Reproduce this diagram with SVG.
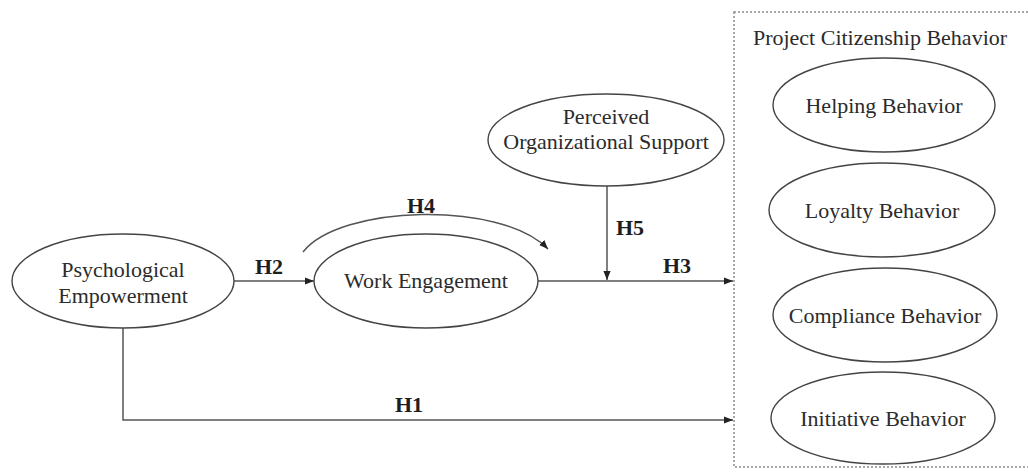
<svg xmlns="http://www.w3.org/2000/svg" width="1028" height="475" viewBox="0 0 1028 475">
  <style>
    .node ellipse { fill: #ffffff; stroke: #444444; stroke-width: 1.4; }
    .lbl { font-family: "Liberation Serif", "Times New Roman", serif; font-size: 22px; fill: #2b2b2b; text-anchor: middle; }
    .hyp { font-family: "Liberation Serif", "Times New Roman", serif; font-size: 22px; font-weight: bold; fill: #1e1e1e; text-anchor: middle; }
    .edge { fill: none; stroke: #555555; stroke-width: 1.5; }
    .frame { fill: none; stroke: #8a8a8a; stroke-width: 1.5; stroke-dasharray: 2 2; }
  </style>
  <defs>
    <marker id="arrow" viewBox="0 0 10 10" refX="10" refY="5" markerWidth="9" markerHeight="9" markerUnits="userSpaceOnUse" orient="auto">
      <path d="M0,1 L10,5 L0,9 Z" fill="#222222"/>
    </marker>
  </defs>
  <rect width="1028" height="475" fill="#ffffff"/>

  <!-- Outcome construct frame -->
  <g id="project-citizenship-behavior">
    <rect class="frame" x="734" y="12" width="400" height="455"/>
    <text class="lbl" x="880" y="45">Project Citizenship Behavior</text>
  </g>

  <!-- Connectors -->
  <g id="connectors">
    <line class="edge" x1="234" y1="281" x2="314" y2="281" marker-end="url(#arrow)"/>
    <path class="edge" d="M303,252 C340,205 500,200 548,249" marker-end="url(#arrow)"/>
    <line class="edge" x1="607" y1="186" x2="607" y2="280" marker-end="url(#arrow)"/>
    <line class="edge" x1="538" y1="281" x2="733" y2="281" marker-end="url(#arrow)"/>
    <path class="edge" d="M123,328 V420 H733" marker-end="url(#arrow)"/>
    <text class="hyp" x="269" y="274">H2</text>
    <text class="hyp" x="421" y="213">H4</text>
    <text class="hyp" x="630" y="235">H5</text>
    <text class="hyp" x="677" y="273">H3</text>
    <text class="hyp" x="409" y="412">H1</text>
  </g>

  <g id="psychological-empowerment" class="node">
    <ellipse cx="123" cy="281" rx="111" ry="47"/>
    <text class="lbl" x="123" y="277">Psychological</text>
    <text class="lbl" x="123" y="303">Empowerment</text>
  </g>

  <g id="work-engagement" class="node">
    <ellipse cx="426" cy="281" rx="112" ry="47"/>
    <text class="lbl" x="426" y="288">Work Engagement</text>
  </g>

  <g id="perceived-organizational-support" class="node">
    <ellipse cx="606" cy="140" rx="118" ry="46"/>
    <text class="lbl" x="606" y="124">Perceived</text>
    <text class="lbl" x="606" y="149">Organizational Support</text>
  </g>

  <g id="helping-behavior" class="node">
    <ellipse cx="884" cy="105" rx="111" ry="47"/>
    <text class="lbl" x="884" y="113">Helping Behavior</text>
  </g>

  <g id="loyalty-behavior" class="node">
    <ellipse cx="882" cy="210" rx="113" ry="47"/>
    <text class="lbl" x="882" y="218">Loyalty Behavior</text>
  </g>

  <g id="compliance-behavior" class="node">
    <ellipse cx="885" cy="315" rx="112" ry="47"/>
    <text class="lbl" x="885" y="323">Compliance Behavior</text>
  </g>

  <g id="initiative-behavior" class="node">
    <ellipse cx="883" cy="418" rx="112" ry="46"/>
    <text class="lbl" x="883" y="426">Initiative Behavior</text>
  </g>
</svg>
